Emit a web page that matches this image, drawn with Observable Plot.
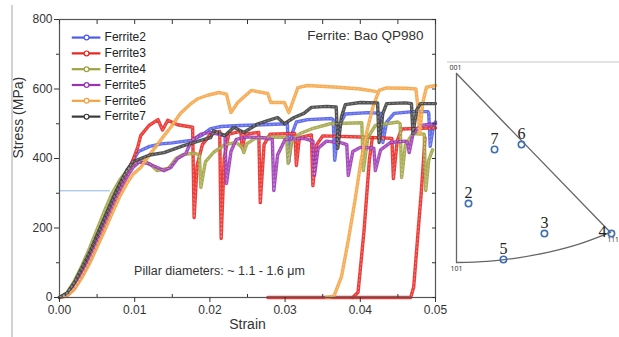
<!DOCTYPE html>
<html><head><meta charset="utf-8">
<script src="https://cdn.jsdelivr.net/npm/d3@7"></script>
<script src="https://cdn.jsdelivr.net/npm/@observablehq/plot@0.6"></script>
<style>
html,body{margin:0;padding:0;background:#fff;}
#wrap{position:relative;width:619px;height:337px;overflow:hidden;background:#fff;font-family:"Liberation Sans",Arial,sans-serif;}
#main{position:absolute;left:0;top:0;}
#ipf{position:absolute;left:440px;top:0;}
.edge{position:absolute;background:#d2d2d2;}
</style></head><body>
<div id="wrap">
 <div id="main"></div><div id="ipf"></div>
 <div class="edge" style="left:11px;top:5px;width:2px;height:332px"></div>
 <div class="edge" style="left:447px;top:61px;width:172px;height:2px;background:#e2e2e2"></div>
</div>
<script>
// ---------- data ----------
const series = ["Ferrite2","Ferrite3","Ferrite4","Ferrite5","Ferrite6","Ferrite7"];
const colors = ["#4c5be8","#e8231f","#9ea23f","#9a33b3","#f4a240","#3a3a3a"];

const ferrite2 = [[0,0],[0.001,10],[0.002,40],[0.003,78],[0.004,120],[0.005,170],[0.006,222],[0.007,272],[0.008,322],[0.009,365],[0.0098,395],[0.0105,420],[0.012,435],[0.0135,442],[0.015,445],[0.0175,452],[0.019,468],[0.020,485],[0.0215,492],[0.024,495],[0.027,497],[0.0303,500],[0.0305,390],[0.0309,470],[0.0315,505],[0.033,512],[0.0362,515],[0.0364,512],[0.0366,395],[0.0371,490],[0.038,528],[0.041,532],[0.0428,530],[0.043,446],[0.0435,505],[0.0445,530],[0.047,535],[0.049,535],[0.0491,530],[0.0493,435],[0.0497,490],[0.050,505]];
const ferrite3 = [[0,0],[0.001,6],[0.002,30],[0.003,68],[0.004,110],[0.005,160],[0.006,212],[0.007,262],[0.008,312],[0.009,360],[0.0097,392],[0.0104,432],[0.0108,466],[0.0119,495],[0.0131,512],[0.0137,482],[0.0144,510],[0.0157,497],[0.0177,490],[0.0179,230],[0.0183,380],[0.019,440],[0.020,468],[0.0213,478],[0.0215,170],[0.0219,400],[0.0225,470],[0.0241,478],[0.0243,430],[0.0247,470],[0.0265,475],[0.0267,273],[0.0272,440],[0.028,470],[0.0313,472],[0.0315,380],[0.0319,460],[0.0335,468],[0.0337,322],[0.0342,440],[0.035,465],[0.040,462],[0.0442,458],[0.0444,342],[0.0449,450],[0.0455,485],[0.050,488]];
const ferrite3Reload1 = [[0.0277,0],[0.0390,0],[0.0397,15],[0.0400,80],[0.0405,193],[0.0412,394],[0.0416,460]];
const ferrite3Reload2 = [[0.0390,0],[0.0467,0],[0.0471,30],[0.0477,193],[0.0481,300],[0.0484,394],[0.0486,460]];
const ferrite4 = [[0,0],[0.001,14],[0.002,48],[0.003,92],[0.004,142],[0.005,196],[0.006,250],[0.007,300],[0.008,338],[0.009,365],[0.010,385],[0.011,395],[0.012,385],[0.013,365],[0.0145,372],[0.0155,400],[0.0165,412],[0.018,415],[0.0186,410],[0.0188,317],[0.0194,390],[0.0205,418],[0.022,440],[0.0235,446],[0.0243,432],[0.0245,417],[0.0249,442],[0.026,458],[0.0285,462],[0.0302,460],[0.0304,386],[0.0309,450],[0.032,472],[0.0335,485],[0.036,500],[0.0402,503],[0.0404,365],[0.041,460],[0.042,495],[0.045,505],[0.0453,500],[0.0455,345],[0.046,440],[0.047,472],[0.0485,470],[0.0487,308],[0.0491,395],[0.0496,425]];
const ferrite5 = [[0,0],[0.001,6],[0.002,28],[0.003,64],[0.004,106],[0.005,155],[0.006,205],[0.007,256],[0.008,305],[0.009,348],[0.0098,375],[0.0106,390],[0.0117,386],[0.013,374],[0.0139,365],[0.0148,374],[0.0157,400],[0.0168,414],[0.0175,450],[0.0188,470],[0.020,475],[0.0215,468],[0.022,465],[0.0222,328],[0.0228,420],[0.0235,455],[0.025,462],[0.027,460],[0.0283,455],[0.0285,308],[0.029,410],[0.030,455],[0.0325,458],[0.0337,450],[0.0339,351],[0.0344,430],[0.0355,450],[0.0375,445],[0.0382,440],[0.0384,351],[0.039,420],[0.040,432],[0.0418,430],[0.042,365],[0.0427,425],[0.044,446],[0.046,450],[0.0463,445],[0.0465,417],[0.047,470],[0.048,495],[0.050,500]];
const ferrite6 = [[0,0],[0.001,4],[0.002,24],[0.003,58],[0.004,98],[0.005,145],[0.006,193],[0.007,242],[0.008,290],[0.009,330],[0.0098,355],[0.0108,374],[0.0121,414],[0.0137,460],[0.0148,490],[0.0161,530],[0.0175,558],[0.0184,572],[0.0197,582],[0.0212,590],[0.0222,585],[0.0228,532],[0.0237,561],[0.0255,596],[0.0277,587],[0.0281,561],[0.0299,561],[0.0305,532],[0.0317,604],[0.033,610],[0.037,605],[0.040,600],[0.042,593]];
const ferrite6Reload = [[0.0355,0],[0.0365,4],[0.0375,60],[0.0384,164],[0.0393,280],[0.0401,394],[0.0409,480],[0.0417,550],[0.0425,596],[0.0435,603],[0.046,602],[0.0474,600],[0.0477,540],[0.0479,470],[0.0483,560],[0.0488,605],[0.050,610]];
const ferrite7 = [[0,0],[0.001,12],[0.002,44],[0.003,86],[0.004,130],[0.005,180],[0.006,230],[0.007,280],[0.008,328],[0.009,368],[0.0099,392],[0.0108,400],[0.012,410],[0.0139,417],[0.0165,437],[0.0188,452],[0.0201,460],[0.0205,480],[0.022,466],[0.0232,490],[0.0245,475],[0.0264,500],[0.0277,509],[0.029,518],[0.0299,500],[0.0312,518],[0.0325,530],[0.0335,547],[0.0355,550],[0.0368,548],[0.037,429],[0.0375,520],[0.038,555],[0.040,561],[0.0423,560],[0.0425,446],[0.043,530],[0.0435,558],[0.046,560],[0.0468,558],[0.047,472],[0.0475,540],[0.048,558],[0.050,558]];

const yTicks = [0,200,400,600,800];
const yMinorTicks = [100,300,500,700];
const xTicks = [0,0.01,0.02,0.03,0.04,0.05];
const xMinorTicks = [0.005,0.015,0.025,0.035,0.045];
const refLine = [{stress:307, from:0, to:0.0068}];

// inverse pole figure (normalized triangle coordinates)
const ipfLeftEdge = [[0,1],[0,0]];
const ipfTopEdge = [[0,1],[1,0.159]];
const ipfArc = [[0,0],[0.2,0.006],[0.4,0.025],[0.6,0.055],[0.8,0.098],[1,0.159]];
const poles = ["001","101","111"];
const poleU = [0,0,1];
const poleV = [1,0,0.159];
const grains = ["2","3","4","5","6","7"];
const grainU = [0.078,0.571,1.006,0.305,0.422,0.247];
const grainV = [0.312,0.153,0.153,0.016,0.624,0.598];

// ---------- build ----------
const segs = [
  ["Ferrite2","a",ferrite2],["Ferrite3","a",ferrite3],["Ferrite3","b",ferrite3Reload1],["Ferrite3","c",ferrite3Reload2],
  ["Ferrite4","a",ferrite4],["Ferrite5","a",ferrite5],["Ferrite6","a",ferrite6],["Ferrite6","b",ferrite6Reload],["Ferrite7","a",ferrite7]
];
const rows = segs.flatMap(([s,k,pts]) => pts.map(([strain,stress]) => ({series:s, seg:s+k, strain, stress})));
const legendRows = series.map((s,i) => ({series:s, y: 748 - i*45.5}));
const font = "Liberation Sans, Arial, sans-serif";
const noText = () => "";

const main = Plot.plot({
  width:440, height:337, marginLeft:59, marginRight:5, marginTop:19, marginBottom:40,
  style:{fontFamily:font, fontSize:"12px", color:"#333", background:"transparent", overflow:"visible"},
  x:{domain:[0,0.05]}, y:{domain:[0,800]},
  color:{domain:series, range:colors},
  marks:[
    Plot.ruleY(refLine, {y:"stress", x1:"from", x2:"to", stroke:"#8db6e2", strokeWidth:1}),
    Plot.line(rows, {x:"strain", y:"stress", z:"seg", stroke:"series", strokeWidth:3.4, strokeOpacity:0.88, strokeLinejoin:"round"}),
    Plot.line(rows, {x:"strain", y:"stress", z:"seg", stroke:"white", strokeWidth:1, strokeDasharray:"1.5,2.5", strokeOpacity:0.3}),
    Plot.frame({stroke:"#555", strokeWidth:1.2}),
    Plot.axisY(yTicks, {tickSize:5, tickPadding:2, label:null, fontSize:12}),
    Plot.axisY(yMinorTicks, {tickSize:3, tickFormat:noText, label:null}),
    Plot.axisY([...yTicks,...yMinorTicks], {anchor:"right", tickSize:-4, tickFormat:noText, label:null}),
    Plot.axisX(xTicks, {tickSize:5, tickPadding:3, tickFormat:d3.format(".2f"), label:null, fontSize:12}),
    Plot.axisX(xMinorTicks, {tickSize:-3, tickFormat:noText, label:null}),
    Plot.axisX([...xTicks,...xMinorTicks], {anchor:"top", tickSize:-4, tickFormat:noText, label:null}),
    Plot.text(["Stress (MPa)"], {frameAnchor:"left", rotate:-90, dx:-41, fontSize:14, fill:"#333"}),
    Plot.text(["Strain"], {frameAnchor:"bottom", dy:22, lineAnchor:"top", fontSize:14, fill:"#333"}),
    Plot.ruleY(legendRows, {y:"y", x1:0.0017, x2:0.0055, stroke:"series", strokeWidth:2.2}),
    Plot.dot(legendRows, {x:0.0036, y:"y", stroke:"series", fill:"white", r:2.4, strokeWidth:1.2}),
    Plot.text(legendRows, {x:0.006, y:"y", text:"series", textAnchor:"start", fontSize:12, fill:"#222"}),
    Plot.text(["Ferrite: Bao QP980"], {frameAnchor:"top-right", dx:-12, dy:11, lineAnchor:"top", fontSize:13.5, fill:"#333"}),
    Plot.text(["Pillar diameters: ~ 1.1 - 1.6 \u03bcm"], {frameAnchor:"bottom", dx:-28, dy:-23, fontSize:12.5, fill:"#333"})
  ]
});
document.getElementById("main").appendChild(main);

const gRows = grains.map((g,i) => ({g, u:grainU[i], v:grainV[i]}));
const pRows = poles.map((p,i) => ({p, u:poleU[i], v:poleV[i]}));
const serif = "Liberation Serif, Times New Roman, serif";
const ipf = Plot.plot({
  width:179, height:337, margin:0,
  style:{background:"transparent", overflow:"visible"},
  x:{domain:[0,1], range:[16,170], axis:null},
  y:{domain:[0,1], range:[262,73], axis:null},
  marks:[
    Plot.line(ipfLeftEdge, {x:d=>d[0], y:d=>d[1], stroke:"#666", strokeWidth:1.3}),
    Plot.line(ipfTopEdge, {x:d=>d[0], y:d=>d[1], stroke:"#666", strokeWidth:1.3}),
    Plot.line(ipfArc, {x:d=>d[0], y:d=>d[1], stroke:"#666", strokeWidth:1.3, curve:"natural"}),
    Plot.dot(gRows, {x:"u", y:"v", r:3.2, stroke:"#3f70b2", strokeWidth:1.6, fill:"none"}),
    Plot.text(gRows.filter(d=>d.g!=="4"), {x:"u", y:"v", text:"g", dy:-11, fontSize:16, fontFamily:serif, fill:"#222"}),
    Plot.text(gRows.filter(d=>d.g==="4"), {x:"u", y:"v", text:"g", dx:-9, dy:-2, fontSize:16, fontFamily:serif, fill:"#222"}),
    Plot.text(pRows.filter(d=>d.p==="001"), {x:"u", y:"v", text:"p", dx:-1, dy:-6, fontSize:7, fill:"#333"}),
    Plot.text(pRows.filter(d=>d.p==="101"), {x:"u", y:"v", text:"p", dy:6, fontSize:7, fill:"#333"}),
    Plot.text(pRows.filter(d=>d.p==="111"), {x:"u", y:"v", text:"p", dx:-3, dy:7, textAnchor:"start", fontSize:6.5, fill:"#333"})
  ]
});
document.getElementById("ipf").appendChild(ipf);
</script>
</body></html>
